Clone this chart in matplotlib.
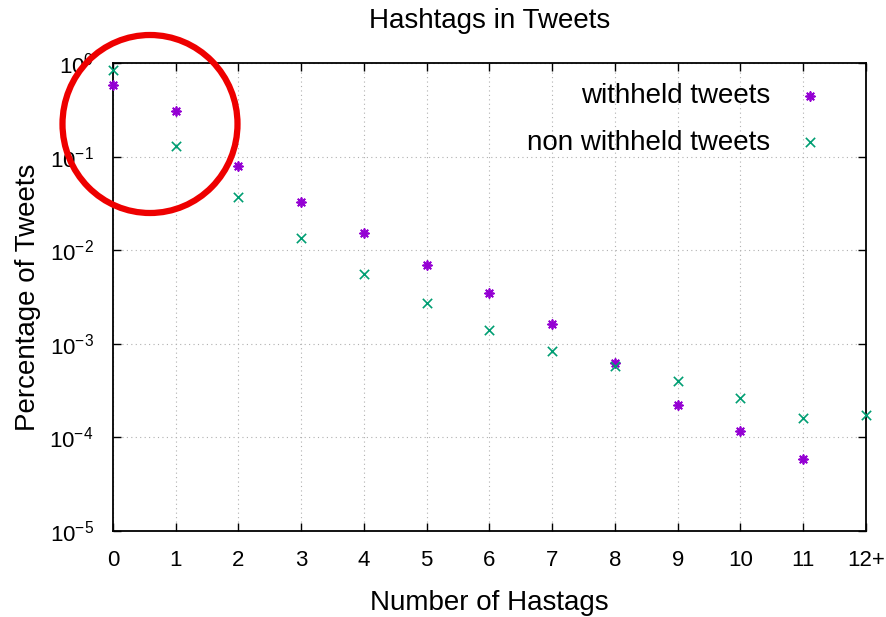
import matplotlib
matplotlib.use("Agg")
import matplotlib.pyplot as plt
import matplotlib.patches as patches

plt.rcParams['font.family'] = ['Liberation Sans', 'DejaVu Sans']
plt.rcParams['mathtext.default'] = 'regular'

# data
hashtags = list(range(13))
tick_labels = ["0", "1", "2", "3", "4", "5", "6", "7", "8", "9", "10", "11", "12+"]
withheld = [0.58, 0.307, 0.079, 0.0327, 0.0153, 0.00695, 0.00349, 0.00163,
            0.000624, 0.000222, 0.000117, 0.0000588]
non_withheld = [0.84, 0.13, 0.037, 0.0135, 0.00557, 0.00273, 0.0014, 0.00084,
                0.00058, 0.0004, 0.000264, 0.000162, 0.000174]

W, H = 887, 617
fig = plt.figure(figsize=(W / 100, H / 100), dpi=100)
ax = fig.add_axes([113 / W, (H - 531) / H, (866 - 113) / W, (531 - 63) / H])

ax.scatter(hashtags[:len(withheld)], withheld, marker=(8, 2, 0), s=40,
           color='#9400D3', linewidths=1.3, label='withheld tweets', clip_on=False, zorder=3)
ax.scatter(hashtags[:len(non_withheld)], non_withheld, marker='x', s=45,
           color='#009E73', linewidths=1.2, label='non withheld tweets', clip_on=False, zorder=3)

ax.set_yscale('log')
ax.set_ylim(1e-5, 1)
ax.set_xlim(0, 12)
ax.set_xticks(hashtags)
ax.set_xticklabels(tick_labels)
ax.set_yticks([1e-5, 1e-4, 1e-3, 1e-2, 1e-1, 1])
ax.minorticks_off()
ax.tick_params(direction='in', length=6, width=1, labelsize=16, top=True, right=True)
ax.tick_params(axis='x', pad=14)
ax.tick_params(axis='y', pad=14)
ax.grid(True, linestyle=(0, (1, 3)), color='#b0b0b0', linewidth=0.8)
for s in ax.spines.values():
    s.set_linewidth(1.3)

fig.text(490 / W, (H - 21) / H, "Hashtags in Tweets", fontsize=20, ha='center', va='center')
ax.set_xlabel("Number of Hastags", fontsize=20)
ax.xaxis.set_label_coords(0.5, -0.125)
ax.set_ylabel("Percentage of Tweets", fontsize=20)
ax.yaxis.set_label_coords(-0.095, 0.5)

ax.legend(loc='upper right', bbox_to_anchor=(824 / W, (H - 83) / H), bbox_transform=fig.transFigure,
          frameon=False, markerfirst=False, fontsize=20, labelspacing=0.74,
          handletextpad=0.94, borderpad=0, borderaxespad=0, handlelength=1.0)

# red circle annotation round the first two points
circ = patches.Ellipse((150, H - 124), 175, 178, transform=None, fill=False,
                       edgecolor='#ee0000', linewidth=4.5, clip_on=False, zorder=10)
fig.add_artist(circ)

fig.savefig("out.png", dpi=100)
